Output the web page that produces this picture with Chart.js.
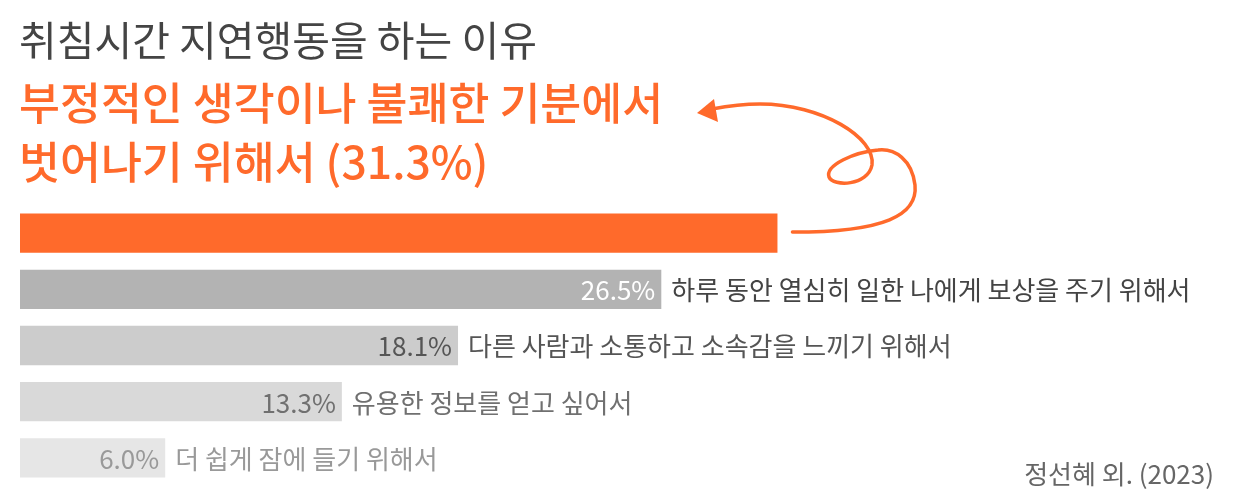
<!DOCTYPE html>
<html>
<head>
<meta charset="utf-8">
<script src="https://cdn.jsdelivr.net/npm/chart.js@4"></script>
<style>
  html, body { margin: 0; padding: 0; background: #fff; }
  #wrap { width: 1256px; height: 502px; position: relative; }
</style>
</head>
<body>
<div id="wrap"><canvas id="myChart" width="1256" height="502"></canvas></div>
<script>
// datos del grafico
var reasons = [
    '부정적인 생각이나 불쾌한 기분에서 벗어나기 위해서',
    '하루 동안 열심히 일한 나에게 보상을 주기 위해서',
    '다른 사람과 소통하고 소속감을 느끼기 위해서',
    '유용한 정보를 얻고 싶어서',
    '더 쉽게 잠에 들기 위해서'
];
var shares = [31.3, 26.5, 18.1, 13.3, 6.0];

var titleText = '취침시간 지연행동을 하는 이유';
var sourceText = '정선혜 외. (2023)';

var FONT = '"Noto Sans CJK KR", "Noto Sans", sans-serif';
var barColors   = ['#ff6a2b', '#b3b3b3', '#cccccc', '#d9d9d9', '#e6e6e6'];
var valueColors = [null, '#ffffff', '#555555', '#707070', '#999999'];
var labelColors = [null, '#444444', '#555555', '#707070', '#999999'];

// textos, etiquetas y la flecha
var decoPlugin = {
    id: 'deco',
    afterDatasetsDraw: function(chart)
    {
        var ctx = chart.ctx;
        var bars = chart.getDatasetMeta(0).data;
        ctx.save();

        // titulo
        ctx.textBaseline = 'alphabetic';
        ctx.textAlign = 'left';
        ctx.fillStyle = '#444444';
        ctx.font = '400 41px ' + FONT;
        ctx.fillText(titleText, 19, 56);

        // el primer motivo va destacado arriba
        ctx.fillStyle = '#ff6a2b';
        ctx.font = '500 44.5px ' + FONT;
        ctx.fillText('부정적인 생각이나 불쾌한 기분에서', 19, 120);
        ctx.fillText('벗어나기 위해서 (' + shares[0].toFixed(1) + '%)', 19, 179);

        // valores dentro de la barra y motivo a la derecha
        ctx.textBaseline = 'middle';
        for (var i = 1; i < bars.length; i++)
        {
            var b = bars[i];
            ctx.font = '400 26px ' + FONT;
            ctx.textAlign = 'right';
            ctx.fillStyle = valueColors[i];
            ctx.fillText(shares[i].toFixed(1) + '%', b.x - 6, b.y + 1);
            ctx.textAlign = 'left';
            ctx.fillStyle = labelColors[i];
            ctx.fillText(reasons[i], b.x + 10, b.y + 1);
        }

        // fuente
        ctx.font = '400 26px ' + FONT;
        ctx.textAlign = 'right';
        ctx.fillStyle = '#666666';
        ctx.fillText(sourceText, 1214, 474);

        // flecha desde la barra naranja hasta el texto
        var b0 = bars[0];
        ctx.strokeStyle = '#ff6a2b';
        ctx.lineWidth = 3.5;
        ctx.lineCap = 'round';
        ctx.beginPath();
        ctx.moveTo(b0.x + 15, b0.y - 1);
        ctx.bezierCurveTo(885, b0.y - 1, 918, 215, 915, 185);
        ctx.bezierCurveTo(912, 160, 895, 148, 878, 150);
        ctx.bezierCurveTo(855, 152, 825, 165, 829, 177);
        ctx.bezierCurveTo(833, 187, 868, 186, 872, 165);
        ctx.bezierCurveTo(876, 138, 822, 104, 760, 104);
        ctx.bezierCurveTo(742, 104, 728, 106, 712, 109);
        ctx.stroke();
        ctx.fillStyle = '#ff6a2b';
        ctx.beginPath();
        ctx.moveTo(697, 113);
        ctx.lineTo(714, 99);
        ctx.lineTo(718, 122);
        ctx.closePath();
        ctx.fill();

        ctx.restore();
    }
};

var ctx = document.getElementById('myChart').getContext('2d');
var myChart = new Chart(ctx,
{
    type: 'bar',
    data:
    {
        labels: reasons,
        datasets:
        [
            {
                data: shares,
                backgroundColor: barColors,
                borderWidth: 0,
                categoryPercentage: 0.7,
                barPercentage: 1.0
            }
        ]
    },
    options:
    {
        indexAxis: 'y',
        responsive: false,
        animation: false,
        layout:
        {
            padding: { top: 205, bottom: 16, left: 20, right: 26 }
        },
        scales:
        {
            x: { display: false, min: 0, max: 50 },
            y: { display: false }
        },
        plugins:
        {
            legend: { display: false },
            title: { display: false },
            tooltip: { enabled: false }
        }
    },
    plugins: [decoPlugin]
});
</script>
</body>
</html>
